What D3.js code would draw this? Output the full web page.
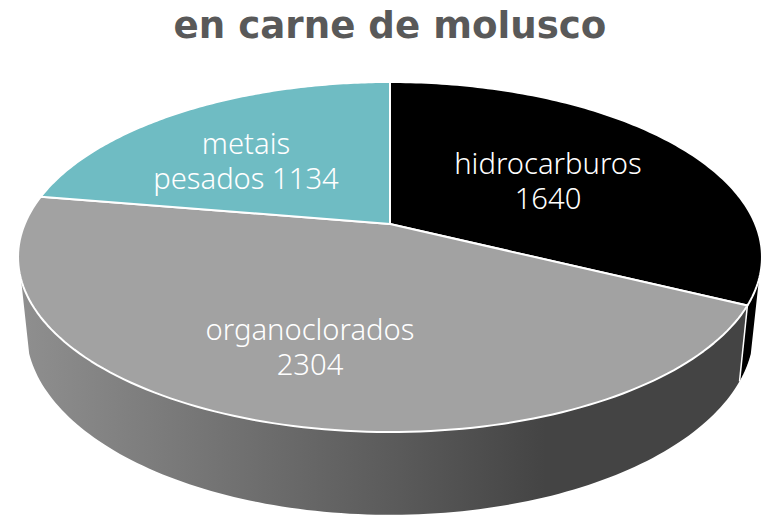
<!DOCTYPE html>
<meta charset="utf-8" />
<style>
  body { margin: 0; background: #fff; overflow: hidden; }
  svg { display: block; }
  text { font-family: "Noto Sans", sans-serif; }
  .title { font-family: "DejaVu Sans", sans-serif; font-weight: bold; font-size: 37.2px; fill: #595959; }
  .label { font-size: 29.2px; font-weight: 300; fill: #fff; text-anchor: middle; }
</style>
<svg width="764" height="515"></svg>
<script src="https://d3js.org/d3.v7.min.js"></script>
<script>
  var titleText = "en carne de molusco";
  var categories = ["hidrocarburos", "organoclorados", "metais pesados"];
  var values = [1640, 2304, 1134];
  var colors = ["#000000", "#a2a2a2", "#6fbcc3"];
  var labelLines = [["hidrocarburos", "1640"], ["organoclorados", "2304"], ["metais", "pesados 1134"]];

  var svg = d3.select("svg");

  // tilted disc: unit circle -> screen, with some perspective
  var cx = 390, cy = 224, k = 0.1886, R = 365.3, S = 168.8;
  function project(angle, t) {
    var u = t * Math.sin(angle), v = -t * Math.cos(angle), w = 1 - k * v;
    return [cx + (R * u) / w, cy + (S * v) / w];
  }
  // bottom rim of the disc
  function lower(p) {
    return [cx + (p[0] - cx) * 0.978, p[1] * 1.055 + 59];
  }

  var line = d3.line();
  var pie = d3.pie().sort(null);
  var arcs = pie(values);

  function rim(a0, a1) {
    return d3.range(0, 121).map(function (i) {
      return project(a0 + ((a1 - a0) * i) / 120, 1);
    });
  }
  function wall(a0, a1) {
    var top = rim(a0, a1);
    return line(top.concat(top.map(lower).reverse())) + "Z";
  }

  var defs = svg.append("defs");
  var grad = defs.append("linearGradient")
    .attr("id", "side")
    .attr("gradientUnits", "userSpaceOnUse")
    .attr("x1", 20).attr("x2", 750).attr("y1", 0).attr("y2", 0);
  grad.append("stop").attr("offset", 0).attr("stop-color", "#8f8f8f");
  grad.append("stop").attr("offset", 0.52).attr("stop-color", "#5a5a5a");
  grad.append("stop").attr("offset", 0.72).attr("stop-color", "#444444");
  grad.append("stop").attr("offset", 1).attr("stop-color", "#444444");

  // visible side walls, angles where the rim silhouette ends
  var rad = Math.PI / 180;
  svg.append("path")
    .attr("d", wall(108 * rad, arcs[0].endAngle))
    .attr("fill", "#000");
  svg.append("path")
    .attr("d", wall(arcs[1].startAngle, 252 * rad))
    .attr("fill", "url(#side)");

  var edgeTop = project(arcs[0].endAngle, 1), edgeBottom = lower(edgeTop);
  svg.append("path")
    .attr("d", line([edgeTop, edgeBottom]))
    .attr("stroke", "#fff")
    .attr("stroke-width", 1.5)
    .attr("fill", "none");

  // top face
  svg.append("g")
    .selectAll("path")
    .data(arcs)
    .enter()
    .append("path")
    .attr("d", function (d) {
      return line([[cx, cy]].concat(rim(d.startAngle, d.endAngle))) + "Z";
    })
    .attr("fill", function (d, i) { return colors[i]; })
    .attr("stroke", "#fff")
    .attr("stroke-width", 2)
    .attr("stroke-linejoin", "round");

  svg.append("text")
    .attr("class", "title")
    .attr("x", 390)
    .attr("y", 38)
    .attr("text-anchor", "middle")
    .text(titleText);

  var labelPos = [[548, 174], [310, 340], [246, 154]];
  var lineGap = 35;
  svg.append("g")
    .selectAll("text")
    .data(categories)
    .enter()
    .append("text")
    .attr("class", "label")
    .attr("y", function (d, i) { return labelPos[i][1]; })
    .each(function (d, i) {
      d3.select(this)
        .selectAll("tspan")
        .data(labelLines[i])
        .enter()
        .append("tspan")
        .attr("x", labelPos[i][0])
        .attr("dy", function (t, j) { return j ? lineGap : 0; })
        .text(function (t) { return t; });
    });
</script>
